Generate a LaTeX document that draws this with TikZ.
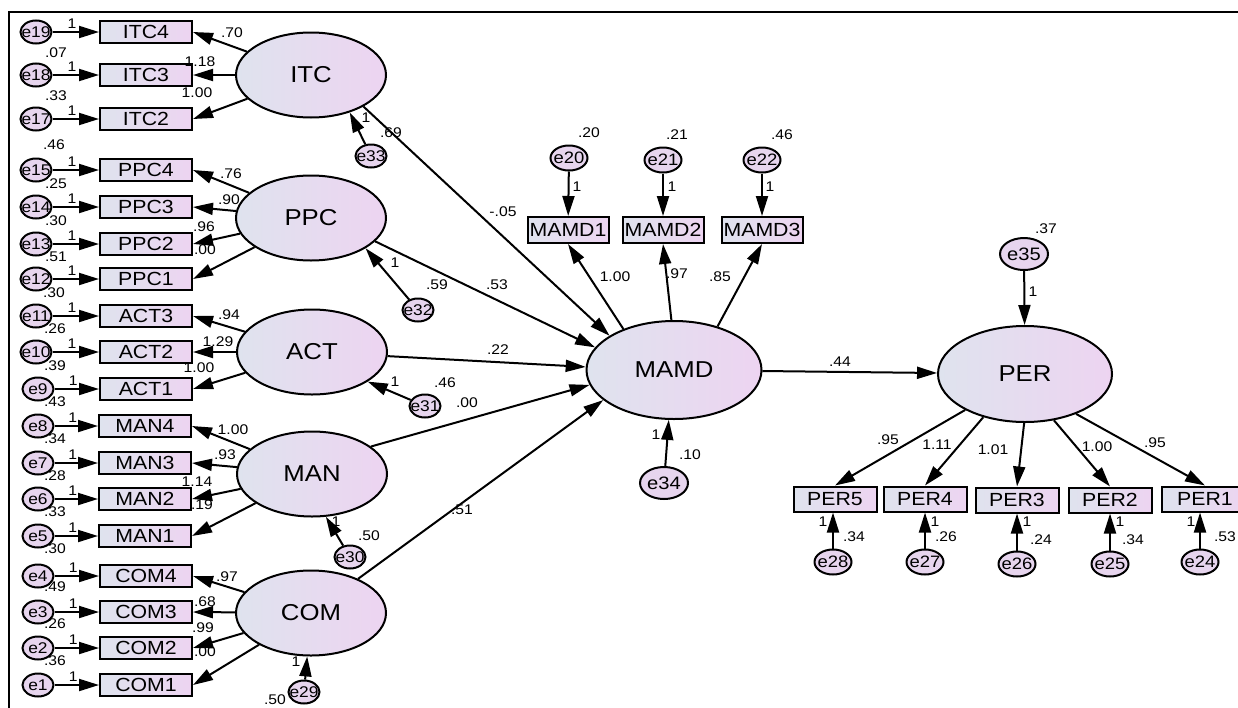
\documentclass[tikz,border=0pt]{standalone}
\usepackage{fontspec}
\setmainfont{Liberation Sans}[FakeStretch=1.12]
\usetikzlibrary{arrows.meta,shapes.geometric}

\definecolor{latl}{HTML}{DFE3EE}
\definecolor{latr}{HTML}{EDD4F1}
\definecolor{errfill}{HTML}{E7D5EE}

\tikzset{
  latent/.style={ellipse,draw,minimum width=150pt,minimum height=85pt,left color=latl,right color=latr,font=\fontsize{23}{26}\selectfont},
  item/.style={rectangle,draw,minimum width=92pt,minimum height=22pt,inner sep=0pt,left color=latl,right color=latr,font=\fontsize{19}{21}\selectfont},
  errbase/.style={ellipse,draw,fill=errfill,inner sep=0pt},
  err/.style={errbase,minimum width=31pt,minimum height=23pt,label={[font=\fontsize{15.5}{17}\selectfont]center:#1}},
  errm/.style={errbase,minimum width=37pt,minimum height=25pt,label={[font=\fontsize{16.5}{18}\selectfont]center:#1}},
  errb/.style={errbase,minimum width=48pt,minimum height=32pt,label={[font=\fontsize{18}{20}\selectfont]center:#1}},
  val/.style={inner sep=0pt,font=\fontsize{14}{16}\selectfont},
  one/.style={val,above=3pt,pos=0.42},
}

\begin{document}
\begin{tikzpicture}[->,>={Triangle[length=20pt,width=12pt]},line width=2pt,x=1pt,y=-1pt]
    \path[use as bounding box] (0,0) rectangle (1238,707);
    \draw[-,line width=2.4pt] (9,12) rectangle (1262,732);

    % latent variables
    \node (ITC) [latent] at (311,75) {ITC};
    \node (PPC) [latent] at (311,218) {PPC};
    \node (ACT) [latent] at (312,352) {ACT};
    \node (MAN) [latent] at (312,474) {MAN};
    \node (COM) [latent] at (311,613) {COM};
    \node (MAMD) [latent,minimum width=175pt,minimum height=98pt] at (674,370) {MAMD};
    \node (PER) [latent,minimum width=174pt,minimum height=96pt] at (1025,374) {PER};

    % left indicators
    \node (ITC4) [item] at (146,32) {ITC4};
    \node (ITC3) [item] at (146,75) {ITC3};
    \node (ITC2) [item] at (146,119) {ITC2};
    \node (PPC4) [item] at (146,170) {PPC4};
    \node (PPC3) [item] at (146,207) {PPC3};
    \node (PPC2) [item] at (146,244) {PPC2};
    \node (PPC1) [item] at (146,279) {PPC1};
    \node (ACT3) [item] at (146,316) {ACT3};
    \node (ACT2) [item] at (146,352) {ACT2};
    \node (ACT1) [item] at (146,389) {ACT1};
    \node (MAN4) [item] at (145,426) {MAN4};
    \node (MAN3) [item] at (145,463) {MAN3};
    \node (MAN2) [item] at (145,499) {MAN2};
    \node (MAN1) [item] at (145,536) {MAN1};
    \node (COM4) [item] at (146,576) {COM4};
    \node (COM3) [item] at (146,612) {COM3};
    \node (COM2) [item] at (146,648) {COM2};
    \node (COM1) [item] at (146,685) {COM1};

    \node (e19) [err=e19] at (36,32) {};
    \node (e18) [err=e18] at (36,75) {};
    \node (e17) [err=e17] at (36,119) {};
    \node (e15) [err=e15] at (36,170) {};
    \node (e14) [err=e14] at (36,207) {};
    \node (e13) [err=e13] at (36,244) {};
    \node (e12) [err=e12] at (36,279) {};
    \node (e11) [err=e11] at (36,316) {};
    \node (e10) [err=e10] at (36,352) {};
    \node (e9) [err=e9] at (38,389) {};
    \node (e8) [err=e8] at (38,426) {};
    \node (e7) [err=e7] at (38,463) {};
    \node (e6) [err=e6] at (38,499) {};
    \node (e5) [err=e5] at (38,536) {};
    \node (e4) [err=e4] at (38,576) {};
    \node (e3) [err=e3] at (38,612) {};
    \node (e2) [err=e2] at (38,648) {};
    \node (e1) [err=e1] at (38,685) {};

    % structural residuals
    \node (e33) [err=e33] at (371,156) {};
    \node (e32) [err=e32] at (418,310) {};
    \node (e31) [err=e31] at (425,406) {};
    \node (e30) [err=e30] at (350,557) {};
    \node (e29) [err=e29] at (304,692) {};
    \node (e34) [errb=e34] at (664,483) {};
    \node (e35) [errb=e35] at (1024,254) {};

    % MAMD and PER indicators
    \node (MAMD1) [item,minimum width=81pt,minimum height=26pt] at (568,230) {MAMD1};
    \node (MAMD2) [item,minimum width=81pt,minimum height=26pt] at (663,230) {MAMD2};
    \node (MAMD3) [item,minimum width=81pt,minimum height=26pt] at (762,230) {MAMD3};
    \node (e20) [errm=e20] at (569,158) {};
    \node (e21) [errm=e21] at (663,160) {};
    \node (e22) [errm=e22] at (762,160) {};
    \node (PER5) [item,minimum width=83pt,minimum height=25pt] at (835,499) {PER5};
    \node (PER4) [item,minimum width=83pt,minimum height=25pt] at (925,499) {PER4};
    \node (PER3) [item,minimum width=83pt,minimum height=25pt] at (1017,500) {PER3};
    \node (PER2) [item,minimum width=83pt,minimum height=25pt] at (1110,500) {PER2};
    \node (PER1) [item,minimum width=86pt,minimum height=25pt] at (1205,499) {PER1};
    \node (e28) [errm=e28] at (833,562) {};
    \node (e27) [errm=e27] at (925,562) {};
    \node (e26) [errm=e26] at (1017,564) {};
    \node (e25) [errm=e25] at (1110,564) {};
    \node (e24) [errm=e24] at (1200,562) {};

    % error paths (fixed at 1)
    \path
    (e19) edge node (o19) [one] {1} (ITC4)
    (e18) edge node (o18) [one] {1} (ITC3)
    (e17) edge node (o17) [one] {1} (ITC2)
    (e15) edge node (o15) [one] {1} (PPC4)
    (e14) edge node (o14) [one] {1} (PPC3)
    (e13) edge node (o13) [one] {1} (PPC2)
    (e12) edge node (o12) [one] {1} (PPC1)
    (e11) edge node (o11) [one] {1} (ACT3)
    (e10) edge node (o10) [one] {1} (ACT2)
    (e9) edge node (o9) [one] {1} (ACT1)
    (e8) edge node (o8) [one] {1} (MAN4)
    (e7) edge node (o7) [one] {1} (MAN3)
    (e6) edge node (o6) [one] {1} (MAN2)
    (e5) edge node (o5) [one] {1} (MAN1)
    (e4) edge node (o4) [one] {1} (COM4)
    (e3) edge node (o3) [one] {1} (COM3)
    (e2) edge node (o2) [one] {1} (COM2)
    (e1) edge node (o1) [one] {1} (COM1)
    (e33) edge (ITC.-44)
    (e32) edge (PPC.-29)
    (e31) edge (ACT.-28)
    (e30) edge (MAN.-72)
    (e29) edge (COM.-95)
    (e34) edge (MAMD.-96)
    (e35) edge (PER)
    (e20) edge (MAMD1)
    (e21) edge (MAMD2)
    (e22) edge (MAMD3)
    (e28) edge (e28 |- PER5.south)
    (e27) edge (PER4)
    (e26) edge (PER3)
    (e25) edge (PER2)
    (e24) edge (e24 |- PER1.south)
    ;

    % loadings
    \path
    (ITC) edge (ITC4.east) (ITC) edge (ITC3.east) (ITC) edge (ITC2.east)
    (PPC) edge (PPC4.east) (PPC) edge (PPC3.east) (PPC) edge (PPC2.east) (PPC) edge (PPC1.east)
    (ACT) edge (ACT3.east) (ACT) edge (ACT2.east) (ACT) edge (ACT1.east)
    (MAN) edge (MAN4.east) (MAN) edge (MAN3.east) (MAN) edge (MAN2.east) (MAN) edge (MAN1.east)
    (COM) edge (COM4.east) (COM) edge (COM3.east) (COM) edge (COM2.east) (COM) edge (COM1.east)
    (MAMD.141) edge (MAMD1.south)
    (MAMD.93) edge (MAMD2.south)
    (MAMD.45) edge (MAMD3.south)
    (PER.211) edge (PER5.north)
    (PER.226) edge (PER4.north)
    (PER.-91) edge (PER3.north)
    (PER.-58) edge (PER2.north)
    (PER.-38) edge (PER1.north)
    ;

    % structural paths
    \path
    (ITC.-31) edge (MAMD.152)
    (PPC.-20) edge (MAMD.164)
    (ACT) edge (MAMD.178)
    (MAN.25) edge (MAMD.190)
    (COM.36) edge (MAMD.203)
    (MAMD) edge (PER)
    ;

    % variances
    \node (v18) [val] at (56,53) {.07};
    \node (v17) [val] at (56,96) {.33};
    \node (v15) [val] at (54,145) {.46};
    \node (v14) [val] at (56,184) {.25};
    \node (v13) [val] at (56,221) {.30};
    \node (v12) [val] at (56,257) {.51};
    \node (v11) [val] at (54,293) {.30};
    \node (v10) [val] at (55,329) {.26};
    \node (v9) [val] at (55,366) {.39};
    \node (v8) [val] at (55,402) {.43};
    \node (v7) [val] at (55,439) {.34};
    \node (v6) [val] at (55,476) {.28};
    \node (v5) [val] at (55,512) {.33};
    \node (v4) [val] at (55,549) {.30};
    \node (v3) [val] at (55,587) {.49};
    \node (v2) [val] at (55,624) {.26};
    \node (v1) [val] at (55,661) {.36};
    \node (v33) [val] at (391,133) {.69};
    \node (v32) [val] at (437,285) {.59};
    \node (v31) [val] at (445,383) {.46};
    \node (v30) [val] at (369,536) {.50};
    \node (v29) [val] at (275,700) {.50};
    \node (v34) [val] at (690,455) {.10};
    \node (v35) [val] at (1046,229) {.37};
    \node (v20) [val] at (589,133) {.20};
    \node (v21) [val] at (677,135) {.21};
    \node (v22) [val] at (782,135) {.46};
    \node (v28) [val] at (854,537) {.34};
    \node (v27) [val] at (946,537) {.26};
    \node (v26) [val] at (1041,540) {.24};
    \node (v25) [val] at (1133,540) {.34};
    \node (v24) [val] at (1225,537) {.53};

    % fixed paths next to residuals
    \node (o33) [val] at (366,118) {1};
    \node (o32) [val] at (395,263) {1};
    \node (o31) [val] at (395,382) {1};
    \node (o30) [val] at (336,522) {1};
    \node (o29) [val] at (296,662) {1};
    \node (o34) [val] at (656,435) {1};
    \node (o35) [val] at (1033,292) {1};
    \node (o20) [val] at (577,187) {1};
    \node (o21) [val] at (672,187) {1};
    \node (o22) [val] at (770,187) {1};
    \node (o28) [val] at (823,522) {1};
    \node (o27) [val] at (935,522) {1};
    \node (o26) [val] at (1027,522) {1};
    \node (o25) [val] at (1120,522) {1};
    \node (o24) [val] at (1191,522) {1};

    % estimates
    \node (wITC4) [val] at (232,33) {.70};
    \node (wITC3) [val] at (200,62) {1.18};
    \node (wITC2) [val] at (197,93) {1.00};
    \node (wPPC4) [val] at (231,174) {.76};
    \node (wPPC3) [val] at (229,200) {.90};
    \node (wPPC2) [val] at (204,227) {.96};
    \node (wPPC1) [val] at (205,250) {.00};
    \node (wACT3) [val] at (229,315) {.94};
    \node (wACT2) [val] at (218,342) {1.29};
    \node (wACT1) [val] at (199,368) {1.00};
    \node (wMAN4) [val] at (233,430) {1.00};
    \node (wMAN3) [val] at (225,455) {.93};
    \node (wMAN2) [val] at (197,482) {1.14};
    \node (wMAN1) [val] at (202,505) {.19};
    \node (wCOM4) [val] at (227,577) {.97};
    \node (wCOM3) [val] at (205,602) {.68};
    \node (wCOM2) [val] at (203,628) {.99};
    \node (wCOM1) [val] at (205,652) {.00};
    \node (wITC) [val] at (503,212) {-.05};
    \node (wPPC) [val] at (497,285) {.53};
    \node (wACT) [val] at (498,350) {.22};
    \node (wMAN) [val] at (467,403) {.00};
    \node (wCOM) [val] at (462,510) {.51};
    \node (wPER) [val] at (840,362) {.44};
    \node (wMAMD1) [val] at (615,277) {1.00};
    \node (wMAMD2) [val] at (677,274) {.97};
    \node (wMAMD3) [val] at (720,277) {.85};
    \node (wPER5) [val] at (888,440) {.95};
    \node (wPER4) [val] at (937,445) {1.11};
    \node (wPER3) [val] at (993,450) {1.01};
    \node (wPER2) [val] at (1097,447) {1.00};
    \node (wPER1) [val] at (1155,443) {.95};
\end{tikzpicture}
\end{document}
